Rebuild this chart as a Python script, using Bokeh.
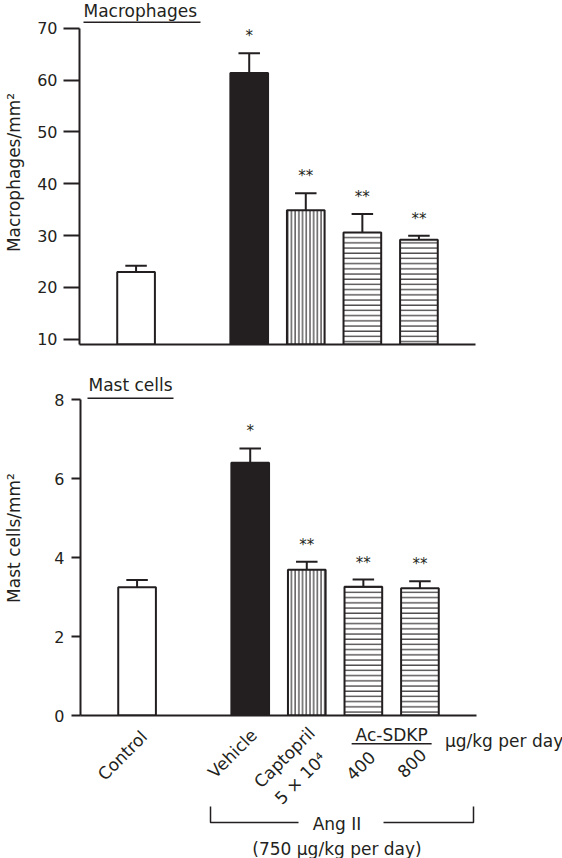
import math
from bokeh.plotting import figure
from bokeh.layouts import column
from bokeh.models import Range1d, FixedTicker, ColumnDataSource
from bokeh.core.properties import value
from bokeh.embed import file_html
from bokeh.resources import INLINE

# ---------------- data ----------------
groups = ["Control", "Vehicle", "Captopril", "Ac-SDKP 400", "Ac-SDKP 800"]
positions = [0, 2, 3, 4, 5]
macro_mean = [23.0, 61.4, 34.9, 30.6, 29.2]
macro_err = [1.2, 3.8, 3.3, 3.6, 0.8]
mast_mean = [3.25, 6.40, 3.69, 3.26, 3.22]
mast_err = [0.18, 0.36, 0.20, 0.18, 0.18]
stars = ["", "*", "**", "**", "**"]
macro_ticks = [10, 20, 30, 40, 50, 60, 70]
mast_ticks = [0, 2, 4, 6, 8]

# ---------------- styles ----------------
INK = "#231f20"
FONT = "DejaVu Sans"
bar_fill = ["white", INK, "white", "white", "white"]
bar_hatch = [" ", " ", "vertical_line", "horizontal_line", "horizontal_line"]
bar_hatch_scale = [4, 4, 3.7, 5.2, 5.2]
BAR_W = 0.666
CAP = 0.19
BASE_SHIFT = 5  # alphabetic text renders a bit low; compensate (px)

W = 562
UNIT = 396 / 7.0  # px per category unit


def style_axes(p, ticks, bounds, label, tick_out, standoff, label_standoff):
    p.grid.visible = False
    p.outline_line_color = None
    ya = p.yaxis[0]
    ya.ticker = FixedTicker(ticks=ticks)
    ya.bounds = bounds
    ya.axis_label = label
    ya.axis_line_width = 2
    ya.axis_line_color = INK
    ya.major_tick_line_width = 2
    ya.major_tick_line_color = INK
    ya.major_tick_out = tick_out
    ya.major_tick_in = 0
    ya.minor_tick_line_color = None
    ya.major_label_standoff = standoff
    ya.major_label_text_font = FONT
    ya.major_label_text_font_size = "16px"
    ya.major_label_text_color = INK
    ya.axis_label_text_font = FONT
    ya.axis_label_text_font_size = "17px"
    ya.axis_label_text_font_style = "normal"
    ya.axis_label_text_color = INK
    ya.axis_label_standoff = label_standoff
    xa = p.xaxis[0]
    xa.ticker = FixedTicker(ticks=[])
    xa.axis_line_width = 2
    xa.axis_line_color = INK
    xa.major_tick_line_color = None
    xa.minor_tick_line_color = None
    xa.major_label_text_font_size = "0px"
    xa.major_label_standoff = 0


def draw_bars(p, means, errs, base, px_scale):
    src = ColumnDataSource(dict(
        x=positions, top=means, fill=bar_fill, hatch=bar_hatch, hs=bar_hatch_scale,
        err=[m + e for m, e in zip(means, errs)],
        x0=[x - CAP for x in positions], x1=[x + CAP for x in positions],
        star=stars,
        sy=[m + e + 17.0 / px_scale for m, e in zip(means, errs)],
    ))
    p.vbar(x="x", top="top", bottom=base, width=BAR_W, source=src,
           fill_color="fill", line_color=INK, line_width=2,
           hatch_pattern="hatch", hatch_scale="hs", hatch_color=INK, hatch_weight=1.1)
    p.segment(x0="x", y0="top", x1="x", y1="err", source=src, line_color=INK, line_width=2)
    p.segment(x0="x0", y0="err", x1="x1", y1="err", source=src, line_color=INK, line_width=2)
    p.text(x="x", y="sy", text="star", source=src, text_align="center",
           text_baseline="middle", text_font=value(FONT), text_font_size="15px",
           text_color=INK)


# ---------------- top panel: macrophages ----------------
HA, A_L, A_R, A_B = 360, 79, 87, 16
A_FH = HA - A_B
A_Y0, A_SCALE = 9.0, 5.183
A_Y1 = A_Y0 + A_FH / A_SCALE
A_BOTTOM_PAGE = A_FH


def yA(page_y):
    return A_Y0 + (A_BOTTOM_PAGE - page_y) / A_SCALE


def xA(page_x):
    return -1 + (page_x - A_L) / UNIT


pA = figure(width=W, height=HA, x_range=Range1d(-1, 6), y_range=Range1d(A_Y0, A_Y1),
            output_backend="svg", toolbar_location=None, min_border=0,
            min_border_left=A_L, min_border_right=A_R, min_border_top=0, min_border_bottom=A_B)
pA.frame_align = False
style_axes(pA, macro_ticks, (A_Y0, 70), "Macrophages/mm²", 16, 6, 10)
draw_bars(pA, macro_mean, macro_err, A_Y0, A_SCALE)
pA.text(x=[xA(83)], y=[yA(15 - BASE_SHIFT)], text=["Macrophages"], text_align="left",
        text_baseline="alphabetic", text_font=value(FONT), text_font_size="17px", text_color=INK)
pA.segment(x0=[xA(83)], y0=[yA(21.7)], x1=[xA(200)], y1=[yA(21.7)], line_color=INK, line_width=1.5)

# ---------------- bottom panel: mast cells ----------------
HB, B_L, B_R, B_B = 364, 80, 86, 9
B_FH = HB - B_B
B_SCALE = 39.5
B_Y1 = B_FH / B_SCALE
B_TOP_PAGE = HA
B_BOTTOM_PAGE = B_TOP_PAGE + B_FH


def yB(page_y):
    return (B_BOTTOM_PAGE - page_y) / B_SCALE


def xB(page_x):
    return -1 + (page_x - B_L) / UNIT


pB = figure(width=W, height=HB, x_range=Range1d(-1, 6), y_range=Range1d(0, B_Y1),
            output_backend="svg", toolbar_location=None, min_border=0,
            min_border_left=B_L, min_border_right=B_R, min_border_top=0, min_border_bottom=B_B)
pB.frame_align = False
style_axes(pB, mast_ticks, (0, 8), "Mast cells/mm²", 9, 7, 27)
draw_bars(pB, mast_mean, mast_err, 0, B_SCALE)
pB.text(x=[xB(88)], y=[yB(389 - BASE_SHIFT)], text=["Mast cells"], text_align="left",
        text_baseline="alphabetic", text_font=value(FONT), text_font_size="17px", text_color=INK)
pB.segment(x0=[xB(87)], y0=[yB(397.7)], x1=[xB(173)], y1=[yB(397.7)], line_color=INK, line_width=1.5)

# ---------------- group labels ----------------
HC = 858 - HA - HB
C_BOTTOM_PAGE = HA + HB + HC


def yC(page_y):
    return C_BOTTOM_PAGE - page_y


pC = figure(width=W, height=HC,
            x_range=Range1d(-1 - B_L / UNIT, 6 + B_R / UNIT), y_range=Range1d(0, HC),
            output_backend="svg", toolbar_location=None, min_border=0,
            x_axis_type=None, y_axis_type=None)
pC.frame_align = False
pC.grid.visible = False
pC.outline_line_color = None

rot_text = ["Control", "Vehicle", "Captopril", "5 × 10⁴", "400", "800"]
rot_pos = [positions[0], positions[1], positions[2], positions[2], positions[3], positions[4]]
rot_dx = [-14.6, -17.7, -22.3, -6.3, -2.9, -8.4]
rot_y = [755, 753, 757, 778, 765, 762.5]
pC.text(x=[p + d / UNIT for p, d in zip(rot_pos, rot_dx)], y=[yC(v) for v in rot_y],
        text=rot_text, angle=math.pi / 4, text_align="center", text_baseline="middle",
        text_font=value(FONT), text_font_size="17px", text_color=INK)

acx = (positions[3] + positions[4]) / 2
pC.text(x=[acx], y=[yC(734)], text=["Ac-SDKP"], text_align="center", text_baseline="middle",
        text_font=value(FONT), text_font_size="17px", text_color=INK)
pC.segment(x0=[acx - 40 / UNIT], y0=[yC(743.3)], x1=[acx + 40 / UNIT], y1=[yC(743.3)],
           line_color=INK, line_width=1.5)
pC.text(x=[positions[4] + 25 / UNIT], y=[yC(740.5)], text=["μg/kg per day"], text_align="left",
        text_baseline="middle", text_font=value(FONT), text_font_size="17px", text_color=INK)

# Ang II bracket
bl = positions[1] - 39.7 / UNIT
br = 6 - 3 / UNIT
gl = positions[1] + 48.3 / UNIT
gr = positions[1] + 133.3 / UNIT
ytop, ybot = yC(806), yC(822)
pC.multi_line(xs=[[bl, bl, gl], [gr, br, br]], ys=[[ytop, ybot, ybot], [ybot, ybot, ytop]],
              line_color=INK, line_width=1.5)
angx = positions[1] + 86.8 / UNIT
pC.text(x=[angx], y=[yC(828 - BASE_SHIFT)], text=["Ang II"], text_align="center",
        text_baseline="alphabetic", text_font=value(FONT), text_font_size="17px", text_color=INK)
pC.text(x=[angx], y=[yC(853 - BASE_SHIFT)], text=["(750 μg/kg per day)"], text_align="center",
        text_baseline="alphabetic", text_font=value(FONT), text_font_size="17px", text_color=INK)

layout = column(pA, pB, pC, spacing=0)
open("out.html", "w").write(file_html(layout, INLINE))
